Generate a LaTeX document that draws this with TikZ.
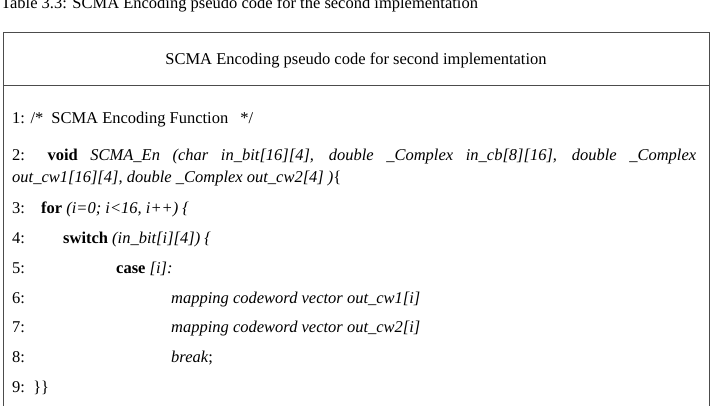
\documentclass[tikz,border=0pt]{standalone}
\usepackage{fontspec}
\setmainfont{Liberation Serif}
\begin{document}
\begin{tikzpicture}[x=1pt,y=-1pt,
  txt/.style={anchor=base west,inner sep=0pt,font=\fontsize{16.5}{20}\selectfont},
  frame/.style={line width=0.6pt,draw=black!70}]
\useasboundingbox (0,0) rectangle (712,405);
\clip (0,0) rectangle (712,405);
\draw[frame] (3,420) -- (3,32) -- (709,32) -- (709,420);
\draw[frame] (3,85) -- (709,85);
\node[txt] (cap) at (1,8) {Table 3.3: SCMA Encoding pseudo code for the second implementation};
\node[txt,anchor=base] (hd) at (356,64) {SCMA Encoding pseudo code for second implementation};
\node[txt] (l1) at (12,123) {1: /*\hspace{8pt}SCMA Encoding Function\hspace{12pt}*/};
\node[txt,anchor=north west,text width=684pt,align=justify,font=\fontsize{16.5}{22}\selectfont] (l2) at (12,149)
  {2: \textbf{void} \textit{SCMA\_En (char in\_bit[16][4], double \_Complex in\_cb[8][16], double \_Complex out\_cw1[16][4], double \_Complex out\_cw2[4] )}\{};
\node[txt] (n3) at (12,213) {3:};
\node[txt] (t3) at (41,213) {\textbf{for} \textit{(i=0; i<16, i++) \{}};
\node[txt] (n4) at (12,243) {4:};
\node[txt] (t4) at (63,243) {\textbf{switch} \textit{(in\_bit[i][4]) \{}};
\node[txt] (n5) at (12,273) {5:};
\node[txt] (t5) at (116,273) {\textbf{case} \textit{[i]:}};
\node[txt] (n6) at (12,303) {6:};
\node[txt] (t6) at (171,303) {\textit{mapping codeword vector out\_cw1[i]}};
\node[txt] (n7) at (12,332) {7:};
\node[txt] (t7) at (171,332) {\textit{mapping codeword vector out\_cw2[i]}};
\node[txt] (n8) at (12,362) {8:};
\node[txt] (t8) at (171,362) {\textit{break};};
\node[txt] (n9) at (12,392) {9:\ \ \}\}};
\end{tikzpicture}
\end{document}
